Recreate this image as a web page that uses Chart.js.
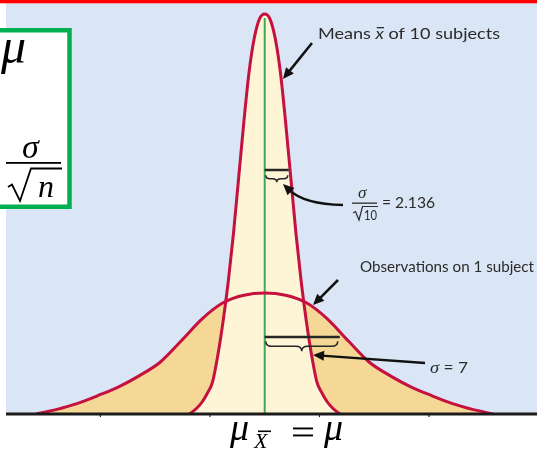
<!DOCTYPE html>
<html>
<head>
<meta charset="utf-8">
<script src="https://cdn.jsdelivr.net/npm/chart.js@4"></script>
<style>
  html, body { margin: 0; padding: 0; background: #fff; }
</style>
</head>
<body>
<canvas id="chart" width="537" height="451"></canvas>
<script>
// values: x in units of the variable (mean at 0, sigma = 7),
// y scaled so the peak of the "means" curve is 100
const meansX = [-7.2, -6.5, -6, -5.5, -5, -4.5, -4, -3.5, -3, -2.5, -2, -1.5, -1, -0.5, 0,
                0.5, 1, 1.5, 2, 2.5, 3, 3.5, 4, 4.5, 5, 5.5, 6, 6.5, 7.2];
const meansY = [0, 1.5, 3, 5.2, 8, 14.6, 23, 33, 45, 59, 73, 85.5, 94, 98.8, 100,
                98.8, 94, 85.5, 73, 59, 45, 33, 23, 14.6, 8, 5.2, 3, 1.5, 0];
const obsX = [-21.9, -21, -20, -18, -16, -14, -12, -10, -8, -6, -4, -2, 0,
              2, 4, 6, 8, 10, 12, 14, 16, 18, 20, 21, 21.9];
const obsY = [0, 0.5, 1.1, 2.6, 4.6, 6.8, 9.6, 13, 18.3, 23.8, 27.8, 29.7, 30.25,
              29.7, 27.8, 23.8, 18.3, 13, 9.6, 6.8, 4.6, 2.6, 1.1, 0.5, 0];
const tickValues = [-15.75, -5.25, 5.25, 15.75];
const sigma = 7;
const sigmaMean = 2.21;

const RED = '#c5113f';
const INK = '#262626';
const SANS = 'Lato, "Open Sans", sans-serif';
const SERIF = '"Liberation Serif", "DejaVu Serif", serif';

const toPoints = (xs, ys) => xs.map((x, i) => ({ x: x, y: ys[i] }));

function drawSegments(ctx, segs, x, y, width) {
  // segs: [{t, font, bar}] drawn in a row, squeezed to the given width
  let total = 0;
  segs.forEach(s => { ctx.font = s.font; s.w = ctx.measureText(s.t).width; total += s.w; });
  const k = width ? width / total : 1;
  ctx.save();
  ctx.translate(x, y);
  ctx.scale(k, 1);
  let cx = 0;
  segs.forEach(s => {
    ctx.font = s.font;
    ctx.fillText(s.t, cx, 0);
    if (s.bar) {
      ctx.fillRect(cx + s.bar[0], -s.bar[1], s.w - s.bar[0] + s.bar[2], 1.3);
    }
    cx += s.w;
  });
  ctx.restore();
}

function arrow(ctx, x0, y0, x1, y1, cpx, cpy) {
  const fx = cpx !== undefined ? cpx : x0, fy = cpy !== undefined ? cpy : y0;
  const a = Math.atan2(y1 - fy, x1 - fx);
  const len = 11, hw = 5;
  const bx = x1 - Math.cos(a) * len * 0.8, by = y1 - Math.sin(a) * len * 0.8;
  ctx.beginPath();
  ctx.moveTo(x0, y0);
  if (cpx !== undefined) ctx.quadraticCurveTo(cpx, cpy, bx, by);
  else ctx.lineTo(bx, by);
  ctx.stroke();
  ctx.beginPath();
  ctx.moveTo(x1, y1);
  ctx.lineTo(x1 - Math.cos(a) * len - Math.sin(a) * hw, y1 - Math.sin(a) * len + Math.cos(a) * hw);
  ctx.lineTo(x1 - Math.cos(a) * len + Math.sin(a) * hw, y1 - Math.sin(a) * len - Math.cos(a) * hw);
  ctx.closePath();
  ctx.fill();
}

function brace(ctx, x0, x1, y, h) {
  const m = (x0 + x1) / 2, r = Math.min(h * 0.6, (x1 - x0) / 5);
  ctx.beginPath();
  ctx.moveTo(x0, y);
  ctx.quadraticCurveTo(x0, y + h / 2, x0 + r, y + h / 2);
  ctx.lineTo(m - r, y + h / 2);
  ctx.quadraticCurveTo(m, y + h / 2, m, y + h);
  ctx.quadraticCurveTo(m, y + h / 2, m + r, y + h / 2);
  ctx.lineTo(x1 - r, y + h / 2);
  ctx.quadraticCurveTo(x1, y + h / 2, x1, y);
  ctx.stroke();
}

const figure = {
  id: 'figure',
  beforeDraw(chart) {
    const { ctx, chartArea: a } = chart;
    ctx.save();
    ctx.fillStyle = '#ffffff';
    ctx.fillRect(0, 0, chart.width, chart.height);
    ctx.fillStyle = '#dae6f5';
    ctx.fillRect(a.left, a.top, a.right - a.left, a.bottom - a.top);
    ctx.restore();
  },
  beforeDatasetsDraw(chart) {
    const { ctx, scales: { x, y } } = chart;
    ctx.save();
    ctx.strokeStyle = '#3caa5a';
    ctx.lineWidth = 2;
    ctx.beginPath();
    ctx.moveTo(x.getPixelForValue(0), y.getPixelForValue(99));
    ctx.lineTo(x.getPixelForValue(0), y.getPixelForValue(0));
    ctx.stroke();
    ctx.restore();
  },
  afterDatasetsDraw(chart) {
    const { ctx, chartArea: a, scales: { x, y } } = chart;
    const x0 = x.getPixelForValue(0);
    ctx.save();
    // axis
    ctx.strokeStyle = '#1c1c1c';
    ctx.lineWidth = 3;
    ctx.beginPath();
    ctx.moveTo(a.left, a.bottom);
    ctx.lineTo(a.right, a.bottom);
    ctx.stroke();
    ctx.lineWidth = 1.2;
    tickValues.forEach(v => {
      const px = x.getPixelForValue(v);
      ctx.beginPath();
      ctx.moveTo(px, a.bottom);
      ctx.lineTo(px, a.bottom + 3);
      ctx.stroke();
    });

    // sigma brackets
    ctx.strokeStyle = INK;
    ctx.lineWidth = 2.5;
    const xs1 = x.getPixelForValue(sigmaMean), xs2 = x.getPixelForValue(sigma);
    ctx.beginPath();
    ctx.moveTo(x0, y.getPixelForValue(61)); ctx.lineTo(xs1 + 1, y.getPixelForValue(61));
    ctx.moveTo(x0, y.getPixelForValue(19.25)); ctx.lineTo(xs2 + 2, y.getPixelForValue(19.25));
    ctx.stroke();
    ctx.lineWidth = 1.5;
    brace(ctx, x0 + 1, xs1, y.getPixelForValue(59.7), 7);
    brace(ctx, x0 + 1, xs2, y.getPixelForValue(18.2), 10);

    // arrows
    ctx.strokeStyle = '#111';
    ctx.fillStyle = '#111';
    ctx.lineWidth = 2.5;
    arrow(ctx, 312, 43, 283, 79);
    arrow(ctx, 343, 205, 283, 184, 304, 204);
    arrow(ctx, 338, 280, 313, 305);
    arrow(ctx, 425, 363, 313, 355);

    // labels
    ctx.fillStyle = '#2b2b2b';
    drawSegments(ctx, [
      { t: 'Means ', font: '15px ' + SANS },
      { t: 'x', font: 'italic 15px ' + SANS, bar: [1, 12, 0] },
      { t: ' of 10 subjects', font: '15px ' + SANS }
    ], 318, 39, 182);

    ctx.font = 'italic 17px ' + SERIF;
    ctx.fillText('\u03c3', 358, 198);
    ctx.fillRect(352, 202.5, 25, 1.3);
    ctx.lineWidth = 1.2;
    ctx.strokeStyle = '#2b2b2b';
    ctx.beginPath();
    ctx.moveTo(353, 213); ctx.lineTo(355.5, 211.5); ctx.lineTo(359, 220);
    ctx.lineTo(362.5, 206.5); ctx.lineTo(378, 206.5);
    ctx.stroke();
    drawSegments(ctx, [{ t: '10', font: '13px ' + SANS }], 364, 220, 13);
    drawSegments(ctx, [{ t: '= 2.136', font: '16px ' + SANS }], 382, 208, 53);

    drawSegments(ctx, [{ t: 'Observations on 1 subject', font: '16px ' + SANS }], 360, 272, 174);

    drawSegments(ctx, [
      { t: '\u03c3', font: 'italic 17px ' + SERIF },
      { t: ' = 7', font: '16px ' + SANS }
    ], 430, 373, 38);
    ctx.restore();
  },
  afterDraw(chart) {
    const { ctx } = chart;
    ctx.save();
    // red rule along the top
    ctx.fillStyle = '#ff0000';
    ctx.fillRect(0, 0, chart.width, 3.3);

    // green formula box
    ctx.fillStyle = '#ffffff';
    ctx.fillRect(-10, 30, 80, 177);
    ctx.strokeStyle = '#00b050';
    ctx.lineWidth = 4.5;
    ctx.strokeRect(-10, 30.25, 79.5, 176.5);

    ctx.fillStyle = '#000';
    ctx.font = 'italic 50px ' + SERIF;
    ctx.fillText('\u03bc', 1, 63);
    ctx.font = 'italic 34px ' + SERIF;
    ctx.fillText('\u03c3', 22, 158);
    ctx.fillRect(6, 162, 55, 1.8);
    ctx.strokeStyle = '#000';
    ctx.lineWidth = 1.8;
    ctx.beginPath();
    ctx.moveTo(8, 187); ctx.lineTo(12, 184.5); ctx.lineTo(20, 201);
    ctx.lineTo(31, 168.5); ctx.lineTo(62, 168.5);
    ctx.stroke();
    ctx.font = 'italic 32px ' + SERIF;
    ctx.fillText('n', 38, 197);

    // bottom label
    ctx.font = 'italic 38px ' + SERIF;
    ctx.fillText('\u03bc', 230, 440);
    ctx.font = 'italic 22px ' + SERIF;
    ctx.fillText('X', 254, 448);
    ctx.fillRect(258, 430.5, 13, 1.6);
    ctx.fillRect(293, 427.5, 20, 1.9);
    ctx.fillRect(293, 434.5, 20, 1.9);
    ctx.font = 'italic 38px ' + SERIF;
    ctx.fillText('\u03bc', 324, 440);
    ctx.restore();
  }
};

new Chart(document.getElementById('chart').getContext('2d'), {
  type: 'line',
  data: {
    datasets: [
      {
        label: 'Means of 10 subjects',
        data: toPoints(meansX, meansY),
        borderColor: RED,
        backgroundColor: '#fef5d7',
        fill: 'origin',
        borderWidth: 3,
        pointRadius: 0,
        cubicInterpolationMode: 'monotone'
      },
      {
        label: 'Observations on 1 subject',
        data: toPoints(obsX, obsY),
        borderColor: RED,
        backgroundColor: '#f5d896',
        fill: 'origin',
        borderWidth: 3,
        pointRadius: 0,
        cubicInterpolationMode: 'monotone'
      }
    ]
  },
  options: {
    responsive: false,
    animation: false,
    events: [],
    layout: { padding: { left: 6, right: 0, top: 3, bottom: 37 } },
    scales: {
      x: { type: 'linear', display: false, min: -24.8, max: 26.1 },
      y: { display: false, min: 0, max: 102.75 }
    },
    plugins: {
      legend: { display: false },
      tooltip: { enabled: false },
      filler: { drawTime: 'beforeDatasetsDraw' }
    }
  },
  plugins: [figure]
});
</script>
</body>
</html>
